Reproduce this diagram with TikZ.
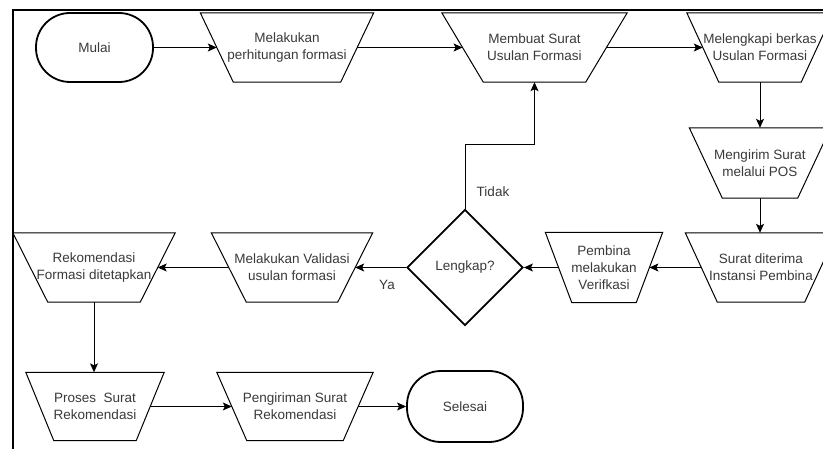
\documentclass[tikz,border=0pt]{standalone}
\usepackage{fontspec}
\setmainfont{Liberation Sans}
\usetikzlibrary{arrows.meta,shapes.geometric}
\definecolor{txt}{HTML}{3A3A3A}
\tikzset{
  every node/.style={font=\fontsize{13.5}{17}\selectfont, text=txt, align=center, inner sep=0pt},
  tbox/.style={rectangle, draw=none},
  shapeline/.style={draw=black, line width=1pt, line join=miter},
  term/.style={rectangle, draw=black, line width=1.8pt, rounded corners=34pt},
  decision/.style={diamond, draw=black, line width=1.8pt, minimum width=116pt, minimum height=116pt, aspect=1},
  conn/.style={draw=black, line width=1pt, -{Stealth[length=9pt,width=8pt,inset=2pt]}},
  frame/.style={draw=black, line width=2pt},
  lbl/.style={font=\fontsize{13.5}{17}\selectfont}
}
\newcommand\trapz[2]{\draw[shapeline] ([xshift=-#2pt]#1.north west) -- ([xshift=#2pt]#1.north east) -- ([xshift=-#2pt]#1.south east) -- ([xshift=#2pt]#1.south west) -- cycle;}
\begin{document}
\begin{tikzpicture}[x=1pt,y=-1pt]
\useasboundingbox (0,0) rectangle (823,449);
\clip (0,0) rectangle (823,449);
\fill[white] (0,0) rectangle (823,449);
% frame
\draw[frame] (12.5,449) -- (12.5,10.5) -- (823,10.5);
% row 1
\node[term, minimum width=117pt, minimum height=69pt] (mulai) at (94.5,47.5) {Mulai};
\node[tbox, minimum width=140pt, minimum height=69pt] (hitung) at (287,47.5) {Melakukan\\perhitungan formasi};
\node[tbox, minimum width=143.5pt, minimum height=69pt] (buat) at (534.5,47.5) {Membuat Surat\\Usulan Formasi};
\node[tbox, minimum width=114pt, minimum height=69pt] (lengkapi) at (760,47.5) {Melengkapi berkas\\Usulan Formasi};
% right column
\node[tbox, minimum width=108pt, minimum height=70pt] (kirim) at (760,163) {Mengirim Surat\\melalui POS};
\node[tbox, minimum width=119pt, minimum height=69pt] (terima) at (761,267.5) {Surat diterima\\Instansi Pembina};
% row 3
\node[tbox, minimum width=90.5pt, minimum height=70pt] (pembina) at (604,267.5) {Pembina\\melakukan\\Verifkasi};
\node[decision] (cek) at (465,267.5) {Lengkap?};
\node[tbox, minimum width=126pt, minimum height=69pt] (validasi) at (292,267.5) {Melakukan Validasi\\usulan formasi};
\node[tbox, minimum width=127pt, minimum height=69pt] (rekom) at (94,267.5) {Rekomendasi\\Formasi ditetapkan};
% row 4
\node[tbox, minimum width=110pt, minimum height=68pt] (proses) at (95,406.5) {Proses\ \ Surat\\Rekomendasi};
\node[tbox, minimum width=126pt, minimum height=68pt] (pengiriman) at (295,406.5) {Pengiriman Surat\\Rekomendasi};
\node[term, minimum width=116pt, minimum height=71pt] (selesai) at (465,406.5) {Selesai};
% trapezoid outlines
\trapz{hitung}{16.5}
\trapz{buat}{20.75}
\trapz{lengkapi}{16}
\trapz{kirim}{16.5}
\trapz{terima}{16}
\trapz{pembina}{13.25}
\trapz{validasi}{17.5}
\trapz{rekom}{17.5}
\trapz{proses}{14}
\trapz{pengiriman}{15}
% connectors
\draw[conn] (mulai.east) -- (hitung.west);
\draw[conn] (hitung.east) -- (buat.west);
\draw[conn] (buat.east) -- (lengkapi.west);
\draw[conn] (lengkapi.south) -- (kirim.north);
\draw[conn] (kirim.south) -- (kirim.south |- terima.north);
\draw[conn] (terima.west) -- (pembina.east);
\draw[conn] (pembina.west) -- (cek.east);
\draw[conn] (cek.north) -- (cek.north |- 0,145) -- (buat.south |- 0,145) -- (buat.south);
\draw[conn] (cek.west) -- (validasi.east);
\draw[conn] (validasi.west) -- (rekom.east);
\draw[conn] (rekom.south) -- (rekom.south |- proses.north);
\draw[conn] (proses.east) -- (proses.east -| pengiriman.west);
\draw[conn] (pengiriman.east) -- (selesai.west);
% labels
\node[lbl] (tidak) at (493,192) {Tidak};
\node[lbl] (ya) at (387,285) {Ya};
\end{tikzpicture}
\end{document}
